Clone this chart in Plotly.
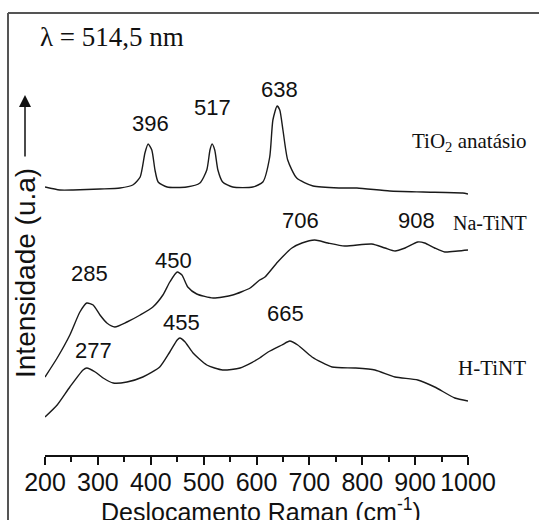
import plotly.graph_objects as go

# ---- data (Raman shift in cm^-1, intensity in arbitrary stacked units) ----
tio2_x = [200, 228, 253, 304, 342, 366, 380, 389, 395, 402, 408, 414, 431, 468, 493, 506, 512, 516,
          521, 527, 536, 555, 593, 612, 625, 631, 639, 644, 650, 659, 676, 707, 758, 790, 852, 915, 990, 1000]
tio2_y = [268, 265, 265, 266, 267, 270, 278, 302, 311, 305, 285, 273, 268, 268, 272, 285, 305, 311,
          305, 285, 273, 268, 268, 273, 298, 335, 349, 345, 325, 295, 277, 269, 267, 267, 264, 263, 262, 261]

na_x = [200, 223, 247, 266, 279, 291, 304, 317, 332, 355, 380, 404, 423, 436, 450, 459, 470, 487,
        518, 555, 588, 606, 616, 640, 667, 686, 710, 735, 767, 818, 843, 862, 881, 905, 918, 937, 956, 981, 1000]
na_y = [78, 97, 120, 143, 152, 150, 140, 132, 128, 133, 140, 148, 160, 173, 183, 180, 168, 161,
        157, 160, 167, 175, 178, 193, 207, 212, 215, 212, 209, 211, 207, 204, 207, 213, 212, 207, 203, 204, 205]

h_x = [200, 223, 247, 272, 279, 295, 310, 329, 355, 385, 417, 436, 450, 455, 465, 480, 506,
       536, 569, 593, 606, 622, 648, 663, 678, 705, 743, 786, 824, 862, 905, 937, 975, 1000]
h_y = [38, 50, 68, 85, 87, 83, 77, 72, 73, 78, 88, 103, 115, 117, 113, 102, 90,
       85, 87, 93, 97, 103, 110, 114, 110, 98, 88, 87, 85, 78, 75, 68, 57, 54]

# peak labels: text and position in image pixels
peak_text = ["396", "517", "638", "706", "908", "285", "450", "455", "277", "665"]
peak_px = [150, 212, 279, 300, 416, 89, 173, 181, 93, 285]
peak_py = [123, 108, 90, 220, 220, 273, 260, 322, 350, 313]

sample_text = ["TiO<sub>2</sub> anatásio", "Na-TiNT", "H-TiNT"]
sample_px = [529, 529, 528]
sample_py = [142, 223, 368]

xticks = [200, 300, 400, 500, 600, 700, 800, 900, 1000]

W, H = 539, 520
L, R, T, B = 45, 71, 15, 65
PW, PH = W - L - R, H - T - B


def px2x(px):
    return (px - L) / PW


def py2y(py):
    return (H - B - py) / PH


fig = go.Figure()
for xs, ys in [(tio2_x, tio2_y), (na_x, na_y), (h_x, h_y)]:
    fig.add_trace(go.Scatter(x=xs, y=ys, mode="lines",
                             line=dict(color="#1a1a1a", width=1.4, shape="spline", smoothing=0.6),
                             showlegend=False, hoverinfo="skip"))

ann = []
for t, px, py in zip(peak_text, peak_px, peak_py):
    ann.append(dict(text=t, x=px2x(px), y=py2y(py), xref="paper", yref="paper",
                    showarrow=False, xanchor="center", yanchor="middle",
                    font=dict(family="Liberation Sans, Arial", size=22, color="#111")))
for t, px, py, fs in zip(sample_text, sample_px, sample_py, [21, 20, 21]):
    ann.append(dict(text=t, x=px2x(px), y=py2y(py), xref="paper", yref="paper",
                    showarrow=False, xanchor="right", yanchor="middle",
                    font=dict(family="Liberation Serif, Times New Roman", size=fs, color="#111")))
ann.append(dict(text="λ = 514,5 nm", x=px2x(38), y=py2y(37), xref="paper", yref="paper",
                showarrow=False, xanchor="left", yanchor="middle",
                font=dict(family="Liberation Serif, Times New Roman", size=27, color="#111")))
ann.append(dict(text="Intensidade (u.a)", x=px2x(25), y=py2y(273), xref="paper", yref="paper",
                showarrow=False, textangle=-90, xanchor="center", yanchor="middle",
                font=dict(family="Liberation Sans, Arial", size=28, color="#111")))
ann.append(dict(text="Deslocamento Raman (cm<sup>-1</sup>)", x=px2x(99), y=py2y(510), xref="paper", yref="paper",
                showarrow=False, xanchor="left", yanchor="middle",
                font=dict(family="Liberation Sans, Arial", size=25, color="#111")))
# upward arrow
ann.append(dict(text="", x=px2x(25), y=py2y(95), xref="paper", yref="paper",
                ax=0, ay=63, showarrow=True, arrowhead=2, arrowsize=1.6, arrowwidth=1.5,
                arrowcolor="#111"))

shapes = [
    dict(type="line", xref="paper", yref="paper", x0=px2x(8), x1=px2x(8), y0=py2y(13), y1=py2y(540),
         line=dict(color="#555", width=2)),
    dict(type="line", xref="paper", yref="paper", x0=px2x(8), x1=px2x(560), y0=py2y(13), y1=py2y(13),
         line=dict(color="#555", width=2)),
]

fig.update_layout(
    width=W, height=H, margin=dict(l=L, r=R, t=T, b=B),
    paper_bgcolor="white", plot_bgcolor="white",
    annotations=ann, shapes=shapes,
    xaxis=dict(range=[200, 1000], tickvals=xticks, ticktext=[str(v) for v in xticks],
               showgrid=False, zeroline=False, showline=True, linecolor="#111", linewidth=1.5,
               ticks="outside", ticklen=8, tickwidth=1.5, tickcolor="#111", ticklabelstandoff=-4,
               minor=dict(ticks="outside", ticklen=5, tickwidth=1.5, tickcolor="#111", dtick=50,
                          showgrid=False),
               tickfont=dict(family="Liberation Sans, Arial", size=25, color="#111")),
    yaxis=dict(range=[0, PH], visible=False),
)

fig.write_html("out.html")
